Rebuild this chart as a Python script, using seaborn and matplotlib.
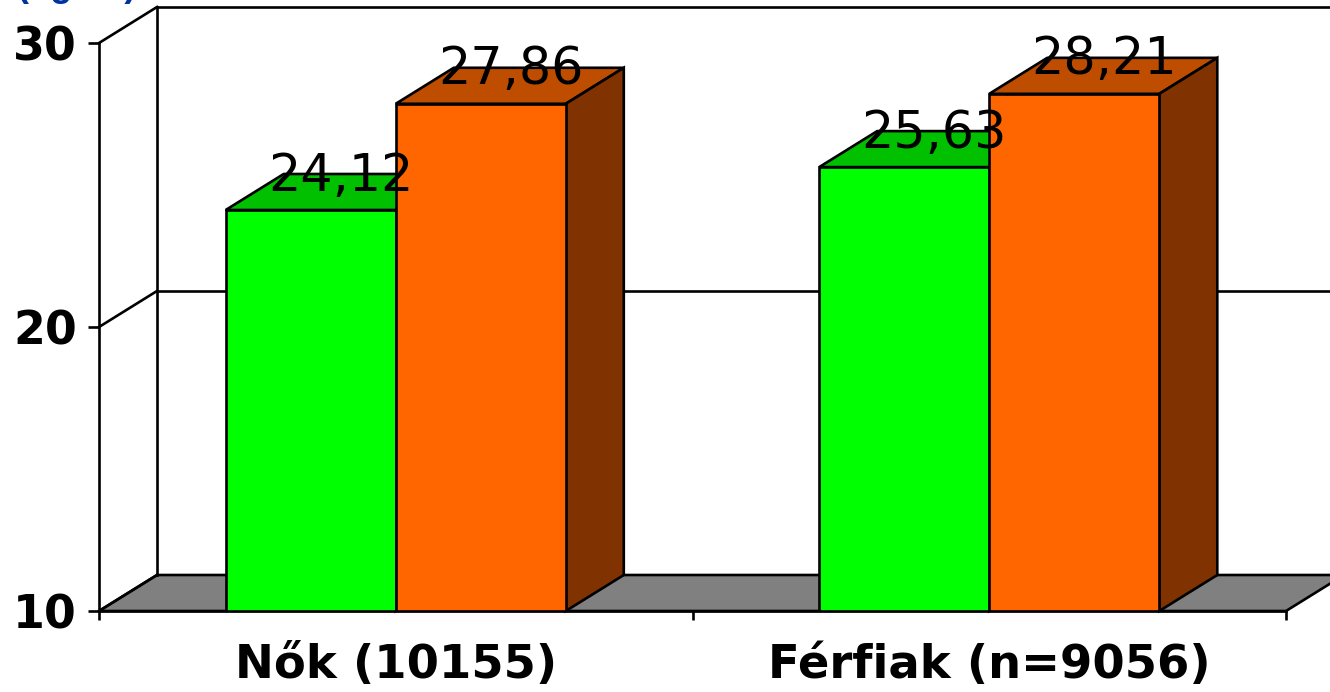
import pandas as pd
import matplotlib
matplotlib.use("Agg")
import matplotlib.pyplot as plt
import seaborn as sns
from matplotlib.patches import Polygon

# values from the chart
categories = ["Nők (10155)", "Férfiak (n=9056)"]
series_names = ["A", "B"]
series_a = [24.12, 25.63]
series_b = [27.86, 28.21]
value_labels = [["24,12", "25,63"], ["27,86", "28,21"]]
y_ticks = [10, 20, 30]
unit_label = "(ng/ml)"

W, H = 1330, 692
X0, X1, Y0, Y30 = 99, 1286, 611, 43
DX_PX, DY_PX = 58, 36

sns.set_theme(style="white")
plt.rcParams["font.family"] = ["Liberation Sans", "DejaVu Sans"]

df = pd.DataFrame({
    "cat": categories * 2,
    "series": [series_names[0]] * 2 + [series_names[1]] * 2,
    "value": series_a + series_b,
})

lw = 1.9

fig = plt.figure(figsize=(W / 100, H / 100), dpi=100, facecolor="white")
ax = fig.add_axes([X0 / W, 1 - Y0 / H, (X1 - X0) / W, (Y0 - Y30) / H])
ax.patch.set_alpha(0)

sns.barplot(data=df, x="cat", y="value", hue="series", hue_order=series_names,
            palette=["#00FF00", "#FF6600"], width=0.573, gap=0, saturation=1,
            edgecolor="black", linewidth=lw, legend=False, ax=ax, zorder=4)
ax.set_xlim(-0.5, 1.5)
ax.set_ylim(10, 30)
ax.set_xlabel("")
ax.set_ylabel("")

# depth of the fake 3D box, in data units
dx = DX_PX / (X1 - X0) * 2
dy = DY_PX / (Y0 - Y30) * 20


def face(points, color, z):
    ax.add_patch(Polygon(points, closed=True, facecolor=color, edgecolor="black",
                         linewidth=lw, clip_on=False, zorder=z))


def line(xs, ys, z=1):
    ax.plot(xs, ys, color="black", lw=lw, clip_on=False, zorder=z,
            solid_capstyle="projecting")


# floor, back wall, side wall
face([(-0.5, 10), (-0.5 + dx, 10 + dy), (1.5 + dx, 10 + dy), (1.5, 10)], "#808080", 1)
line([-0.5 + dx, -0.5 + dx], [10 + dy, 30 + dy])
line([-0.5 + dx, 1.5 + dx], [30 + dy, 30 + dy])
line([-0.5 + dx, 1.5 + dx], [20 + dy, 20 + dy])
for t in y_ticks:
    line([-0.5, -0.5 + dx], [t, t + dy])

# top and side faces of the bars
top_colors = {"#00ff00": "#00C000", "#ff6600": "#BF4D00"}
side_colors = {"#00ff00": "#008000", "#ff6600": "#803300"}
bars = [b for b in ax.patches if isinstance(b, matplotlib.patches.Rectangle) and b.get_height() > 0]
for i, b in enumerate(bars):
    c = matplotlib.colors.to_hex(b.get_facecolor())
    left, right = b.get_x(), b.get_x() + b.get_width()
    top = b.get_height()
    z = 2 if i < 2 else 3
    face([(left, top), (left + dx, top + dy), (right + dx, top + dy), (right, top)], top_colors[c], z)
    face([(right, 10), (right + dx, 10 + dy), (right + dx, top + dy), (right, top)], side_colors[c], z)
    b.set_zorder(z + 0.5)

# value labels sit on the back edge of each bar top
for group, vals, labels in zip(range(2), [series_a, series_b], value_labels):
    for j, (v, s) in enumerate(zip(vals, labels)):
        xc = j + (group - 0.5) * 0.2865 + dx / 2 + 0.002
        ax.text(xc, v + dy - 0.09, s, ha="center", va="center", fontsize=36.5,
                family="DejaVu Sans", color="black", zorder=6, clip_on=False)

ax.set_yticks(y_ticks)
ax.set_yticklabels([str(t) for t in y_ticks], fontsize=33, fontweight="bold",
                   family="DejaVu Sans", color="black")
ax.set_xticks([0, 1])
ax.set_xticklabels(categories, fontsize=33.5, fontweight="bold", family="DejaVu Sans", color="black")
ax.set_xticks([-0.5, 0.5, 1.5], minor=True)
ax.tick_params(axis="x", which="major", length=0, pad=23)
ax.tick_params(axis="x", which="minor", length=6.5, width=lw, color="black", bottom=True)
ax.tick_params(axis="y", which="major", length=8, width=lw, color="black", left=True, pad=8)
sns.despine(ax=ax, top=True, right=True)
for side in ["left", "bottom"]:
    ax.spines[side].set_color("black")
    ax.spines[side].set_linewidth(lw)
    ax.spines[side].set_zorder(5)

# axis unit, cut off by the top of the picture in the original
fig.text(76 / W, 1 + 14 / H, unit_label, ha="center", va="center", fontsize=26,
         fontweight="bold", color="#0033A0")

fig.savefig("out.png", dpi=100)
